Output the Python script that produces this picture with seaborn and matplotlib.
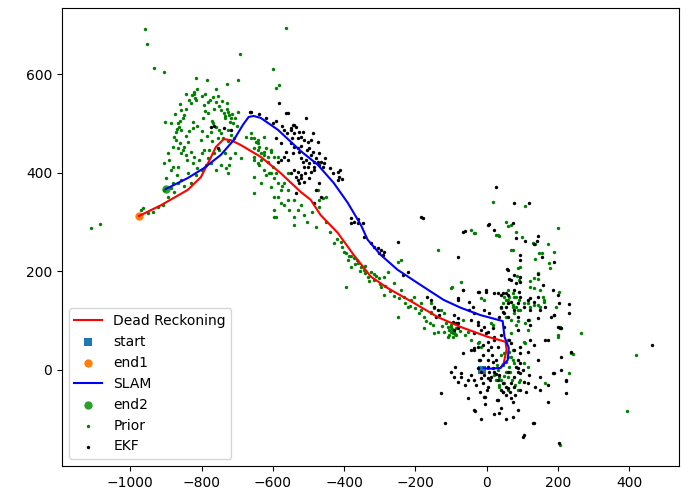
import numpy as np
import matplotlib
matplotlib.use("Agg")
import matplotlib.pyplot as plt
import seaborn as sns

# Dead reckoning trajectory (start -> end1)
dr_x = [39, 48, 56, 53, 3, -73, -137, -205, -278, -325, -373, -418, -466, -494, -522, -578,
        -634, -690, -718, -738, -760, -780, -802, -839, -914, -976]
dr_y = [4, 14, 41, 57, 67, 87, 107, 136, 166, 189, 233, 278, 314, 345, 361, 399,
        432, 456, 466, 468, 452, 422, 391, 365, 334, 312]

# SLAM trajectory (start -> end2)
slam_x = [-8, 3, 39, 59, 62, 50, 45, -17, -73, -121, -185, -250, -297, -334, -353, -390,
          -429, -474, -522, -586, -634, -654, -668, -684, -710, -746, -794, -839, -900]
slam_y = [4, 2, 4, 20, 45, 67, 99, 111, 126, 142, 172, 203, 233, 264, 294, 339,
          379, 416, 444, 487, 511, 515, 513, 497, 466, 436, 409, 389, 367]

start_xy = (-12, 0)
end1_xy = (-977, 312)
end2_xy = (-900, 367)

# Prior landmark estimates
prior_pts = [
    (-959, 691), (-954, 661), (-934, 612), (-906, 604), (-816, 592), (-785, 588), (-760, 570),
    (-729, 580), (-698, 588), (-693, 641), (-600, 610), (-592, 572), (-583, 578), (-564, 693),
    (-1111, 288), (-1086, 296),
    (-903, 503), (-822, 564), (-826, 557), (-818, 552), (-783, 543), (-769, 553), (-755, 555),
    (-830, 541), (-858, 527), (-794, 537), (-760, 543), (-729, 541), (-850, 517), (-853, 511),
    (-867, 501), (-864, 493), (-858, 486), (-872, 482), (-825, 503), (-825, 491), (-797, 511),
    (-783, 521), (-746, 527), (-738, 521), (-727, 523), (-724, 517), (-718, 511), (-721, 503),
    (-712, 501), (-698, 523), (-769, 501), (-760, 493), (-752, 486), (-746, 480), (-774, 482),
    (-727, 486), (-718, 476), (-878, 472), (-872, 466), (-839, 462), (-802, 466), (-853, 446),
    (-858, 440), (-844, 436), (-830, 442), (-822, 432), (-881, 452), (-892, 426), (-881, 411),
    (-794, 446), (-808, 426), (-783, 430), (-774, 420), (-820, 560), (-815, 548), (-862, 505),
    (-848, 452), (-800, 440), (-770, 505), (-735, 510), (-728, 530), (-870, 488), (-790, 525),
    (-845, 560), (-835, 548), (-812, 570), (-800, 555), (-790, 560), (-776, 548), (-764, 530),
    (-752, 535), (-742, 545), (-733, 515), (-715, 520), (-705, 510), (-700, 495), (-710, 470),
    (-725, 465), (-740, 470), (-755, 470), (-770, 465), (-785, 475), (-800, 485), (-812, 495),
    (-835, 485), (-845, 475), (-860, 460), (-865, 450), (-840, 425), (-825, 420), (-812, 410),
    (-798, 405), (-780, 445), (-765, 440), (-750, 445), (-735, 440), (-720, 430), (-705, 440),
    (-690, 430), (-875, 520), (-885, 500), (-860, 540), (-845, 530), (-895, 440), (-870, 395),
    (-900, 390), (-880, 380), (-850, 372), (-830, 380), (-815, 395),
    (-676, 472), (-662, 470), (-648, 462), (-640, 452), (-620, 450), (-606, 442), (-626, 436),
    (-642, 446), (-597, 432), (-614, 422), (-600, 411), (-634, 426), (-653, 432),
    (-662, 480), (-654, 470), (-642, 460), (-626, 442), (-614, 432), (-654, 426), (-640, 416),
    (-626, 405), (-611, 399), (-597, 389), (-586, 379), (-606, 371), (-578, 365), (-586, 351),
    (-558, 345), (-569, 334), (-555, 324), (-597, 310), (-541, 310), (-642, 466), (-626, 472),
    (-654, 450), (-634, 440), (-606, 446), (-586, 432), (-642, 420), (-606, 399), (-654, 391),
    (-634, 379), (-569, 379), (-558, 365), (-597, 351), (-578, 338), (-597, 324), (-541, 345),
    (-522, 334), (-530, 324), (-513, 314), (-558, 399), (-474, 365), (-460, 349), (-452, 351),
    (-471, 345), (-592, 310), (-541, 294), (-654, 359), (-620, 395), (-590, 400), (-575, 372),
    (-906, 365), (-886, 369), (-878, 361), (-895, 351), (-867, 379), (-858, 385), (-965, 328),
    (-951, 318), (-937, 320), (-970, 324), (-923, 330), (-909, 334),
    (-788, 416), (-760, 405), (-732, 409), (-727, 399), (-746, 416), (-724, 416), (-906, 420),
    (-886, 405), (-867, 411), (-839, 399),
    (-429, 257), (-410, 260), (-396, 237), (-390, 223), (-373, 227), (-362, 217), (-381, 209),
    (-353, 209), (-345, 203), (-325, 199), (-334, 189), (-317, 182), (-303, 186), (-289, 189),
    (-278, 199), (-250, 219), (-241, 223), (-261, 176), (-241, 162), (-297, 168), (-289, 152),
    (-233, 148), (-213, 142), (-205, 148), (-222, 128), (-185, 136), (-185, 122), (-157, 116),
    (-177, 107), (-250, 107), (-129, 122), (-109, 87), (-101, 77), (-109, 67), (-95, 75),
    (-121, 77), (-137, 77), (-149, 75), (-177, 85), (-65, 101), (-53, 77), (-25, 55),
    (-505, 300), (-490, 320), (-480, 290), (-470, 330), (-450, 300), (-440, 280), (-420, 265),
    (-405, 250), (-400, 240), (-385, 230), (-370, 215), (-355, 200), (-340, 210), (-330, 180),
    (-315, 195), (-300, 175), (-285, 170), (-270, 160), (-260, 150), (-245, 145), (-230, 135),
    (-215, 130), (-200, 125), (-190, 115), (-170, 100), (-160, 95), (-150, 90), (-125, 88),
    (-115, 95), (-100, 92), (-85, 85), (-75, 78), (-60, 70),
    (-8, 142), (45, 136), (48, 148), (59, 142), (73, 128), (76, 116), (67, 101), (53, 300),
    (67, 294), (73, 243), (-36, 278), (-45, 284), (25, 274), (-137, 243), (-73, 178),
    (-101, 166), (-65, 162), (-396, 168), (-380, 230), (-365, 222), (-340, 196), (-310, 190),
    (-101, 87), (-93, 77), (-107, 71), (-95, 67), (-87, 71), (-105, 80), (-98, 82), (-90, 72),
    (17, 341), (109, 332), (59, 292), (-34, 278), (34, 272), (81, 280), (98, 270), (199, 288),
    (67, 243), (129, 257), (137, 255), (171, 255), (146, 237), (154, 237), (188, 239),
    (137, 225), (174, 217), (177, 207), (87, 207), (95, 209), (84, 191), (90, 182), (123, 180),
    (143, 184), (-98, 168), (59, 162), (76, 148), (62, 148), (53, 142), (132, 166), (151, 162),
    (202, 158), (-17, 146), (73, 132), (81, 128), (87, 122), (115, 136), (123, 128), (143, 132),
    (151, 128), (160, 142), (194, 128), (39, 126), (264, 75), (205, 87), (199, 67), (241, 32),
    (230, -6), (165, -26), (418, 30), (395, -83), (205, -152), (87, -41), (95, -20), (104, 57),
    (109, 55), (73, 20), (76, 14), (62, 6), (73, 41), (34, -14), (39, -20), (59, -14),
    (48, -26), (31, 0), (104, 14), (115, 6), (118, 101), (109, 95), (115, 81), (81, 91),
    (31, 274), (132, 186), (143, 197), (123, 168), (73, 156), (81, 148), (90, 142), (157, 148),
    (160, 138), (-45, 61), (-22, 57), (-17, 47), (48, 34), (59, 26), (-157, 136), (-149, 126),
    (-157, 118), (-121, 116), (11, 95), (17, 91), (95, 122), (104, 136), (132, 132), (53, 107),
    (62, 36), (67, 26), (25, -20), (34, -34), (90, -24), (199, 71), (236, 34), (55, -5),
    (45, 10), (66, -5), (50, -12), (40, 30), (60, 60), (68, 75), (88, 100),
    (30, 10), (55, 15), (70, -20), (80, -30), (45, -45), (60, -40), (20, -10), (35, -30),
]

# EKF landmark estimates
ekf_pts = [
    (-665, 523), (-583, 541), (-558, 521), (-508, 511), (-541, 497), (-550, 486), (-541, 480),
    (-527, 482), (-774, 493), (-766, 495), (-738, 491), (-718, 486), (-755, 450), (-662, 523),
    (-564, 521), (-544, 497), (-550, 491), (-536, 493), (-569, 486), (-516, 482), (-522, 472),
    (-513, 466), (-502, 462), (-494, 466), (-488, 480), (-592, 470), (-578, 460), (-550, 460),
    (-541, 452), (-530, 450), (-527, 442), (-544, 440), (-474, 462), (-499, 450), (-488, 442),
    (-494, 436), (-564, 442), (-569, 432), (-578, 426), (-586, 422), (-558, 426), (-522, 430),
    (-516, 422), (-508, 426), (-499, 420), (-485, 422), (-474, 422), (-466, 422), (-471, 416),
    (-460, 411), (-457, 420), (-485, 411), (-502, 411), (-513, 411), (-541, 405), (-530, 401),
    (-550, 399), (-536, 391), (-530, 385), (-522, 389), (-527, 379), (-513, 381), (-499, 389),
    (-485, 405), (-494, 401), (-418, 401), (-412, 405), (-415, 391), (-407, 387), (-418, 385),
    (-471, 379), (-480, 365), (-466, 351), (-536, 359), (-485, 338), (-381, 308), (-373, 300),
    (-362, 298), (-348, 298), (-362, 306), (-381, 298), (-185, 310), (-180, 308),
    (-640, 520), (-620, 510), (-600, 500), (-590, 505), (-575, 495), (-560, 480), (-545, 470),
    (-530, 470), (-520, 455), (-505, 445), (-480, 430), (-470, 440), (-455, 430), (-440, 410),
    (-430, 400), (-510, 400), (-520, 395),
    (-345, 270), (-325, 257), (-317, 249), (-306, 247), (-297, 243), (-289, 239), (-303, 237),
    (-292, 233), (-250, 260), (-222, 199), (-236, 193), (-166, 148), (-157, 142), (-149, 128),
    (-137, 122), (-135, 111), (-143, 107), (-93, 111), (-81, 105), (-95, 97), (-87, 95),
    (-81, 85), (-93, 81), (-81, 142), (-67, 162), (-25, 158), (-3, 162), (20, 156), (39, 152),
    (53, 156), (76, 162), (90, 158), (-65, 280), (20, 284), (3, 294), (76, 338), (-81, 229),
    (-8, 87), (3, 77), (-25, 97), (-36, 75), (20, 67), (39, 71), (48, 87), (87, 81), (59, 203),
    (67, 182), (76, 193), (95, 47), (-25, 47), (31, 47),
    (25, 371), (118, 338), (-62, 282), (6, 296), (73, 298), (81, 268), (109, 261), (143, 272),
    (140, 262), (134, 255), (93, 233), (93, 223), (154, 229), (188, 219), (56, 205), (62, 184),
    (95, 189), (95, 178), (81, 176), (143, 195), (-22, 158), (-3, 158), (31, 156), (45, 156),
    (59, 152), (157, 172), (185, 162), (199, 152), (95, 148), (115, 142), (123, 146), (132, 138),
    (143, 148), (87, 136), (104, 128), (123, 122), (151, 122), (165, 128), (188, 111), (202, 136),
    (230, 134), (-79, 146), (-50, 138), (-39, 128), (-8, 122), (6, 116), (53, 128), (45, 118),
    (34, 107), (59, 107), (87, 107),
    (-67, 34), (-45, 41), (-36, 45), (-22, 20), (3, 20), (17, 16), (-73, -14), (-129, -47),
    (-53, -57), (-36, -81), (-118, -107), (-8, -55), (31, -61), (67, -57), (73, -65), (39, -77),
    (87, -81), (-31, -30), (-11, -26), (3, -34), (59, -36), (76, -34), (-25, 4), (-17, -4),
    (-8, -10), (3, -16), (11, -14), (20, -4), (31, -20), (45, -26), (53, -34), (67, -26),
    (76, -14), (87, -4), (95, -6), (104, -24), (115, -26), (6, -4), (17, 4), (3, 6), (-17, -16),
    (-36, -20), (-45, -10), (-53, -20), (-73, -6), (-93, -14), (87, 4), (104, -132), (132, -107),
    (151, -14), (188, -6), (171, -30), (171, -65), (185, -6), (222, -20), (208, 0), (101, -136),
    (202, -148), (34, -87), (123, 61), (132, 51), (115, 36), (95, 34), (87, 20), (95, 14),
    (81, 6), (101, 0), (67, 55), (76, 41), (62, 61), (165, 61), (143, 20), (143, 105), (123, 91),
    (115, 101), (180, 107), (188, 111), (-50, 122), (-36, 116), (-45, 101), (-25, 91), (-17, 81),
    (-3, 75), (17, 85), (20, 61), (3, 57), (11, 47), (-11, 51), (-36, 41), (59, 136), (67, 138),
    (39, 128), (48, 116), (76, 122), (-79, 95), (-34, -83), (-6, -55), (28, -61), (129, -107),
    (208, 26), (236, 36), (199, 87), (205, 85), (171, 61), (230, 116), (463, 51), (208, 85),
    (224, -22), (224, -47), (10, -20), (25, -8), (40, -40), (60, -5), (0, -40), (-20, -45),
    (-10, 30), (-20, 20), (5, 40), (15, 30), (25, 20), (35, -10), (45, -45), (55, -50),
    (65, -45), (80, -50), (95, -40), (110, -45), (-5, -70), (20, -90), (-60, -30), (-80, -25),
    (-90, 5), (-100, -5), (120, -10), (135, -35), (150, -40), (75, -95), (55, -100), (-15, -100),
]

prior_x, prior_y = np.array(prior_pts).T
ekf_x, ekf_y = np.array(ekf_pts).T

fig, ax = plt.subplots(figsize=(6.88, 5.0), dpi=100)
fig.subplots_adjust(left=0.090, right=0.987, bottom=0.068, top=0.984)

sns.lineplot(x=dr_x, y=dr_y, sort=False, estimator=None, color="r", label="Dead Reckoning", ax=ax)
sns.scatterplot(x=[start_xy[0]], y=[start_xy[1]], marker="s", color="C0", s=36, linewidth=0,
                label="start", ax=ax)
sns.scatterplot(x=[end1_xy[0]], y=[end1_xy[1]], marker="o", color="C1", s=36, linewidth=0,
                label="end1", ax=ax)
sns.lineplot(x=slam_x, y=slam_y, sort=False, estimator=None, color="b", label="SLAM", ax=ax)
sns.scatterplot(x=[end2_xy[0]], y=[end2_xy[1]], marker="o", color="C2", s=36, linewidth=0,
                label="end2", ax=ax)
sns.scatterplot(x=prior_x, y=prior_y, color="g", s=6, linewidth=0, label="Prior", ax=ax)
sns.scatterplot(x=ekf_x, y=ekf_y, color="k", s=6, linewidth=0, label="EKF", ax=ax)

ax.set_xlim(-1192, 540)
ax.set_ylim(-195, 734)
ax.set_xticks([-1000, -800, -600, -400, -200, 0, 200, 400])
ax.set_yticks([0, 200, 400, 600])
ax.legend(loc="lower left")

fig.savefig("out.png", dpi=100)
